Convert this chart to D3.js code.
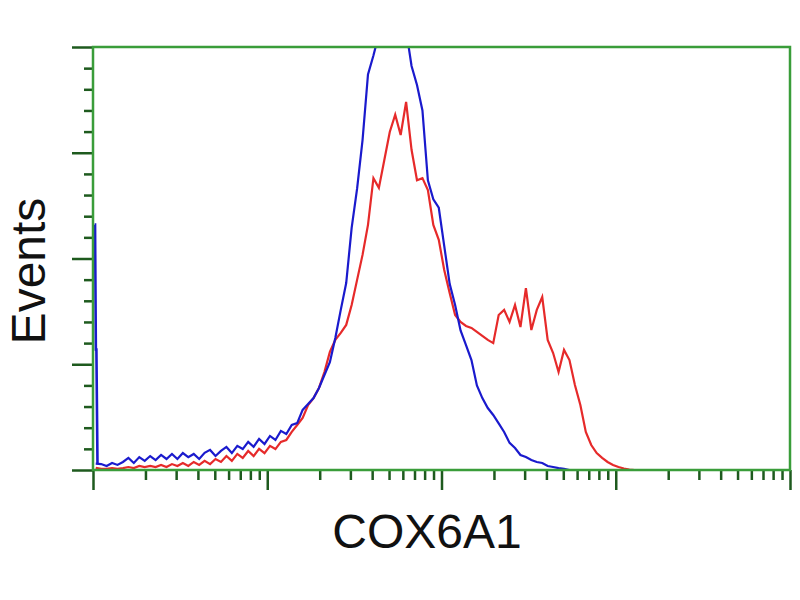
<!DOCTYPE html>
<html>
<head>
<meta charset="utf-8">
<script src="https://cdn.jsdelivr.net/npm/d3@7"></script>
<style>
    body { margin: 0; background: #fff; }
    .axisLabel { font-family: "Liberation Sans", Arial, sans-serif; font-size: 48px; fill: #111; }
</style>
</head>
<body>
<svg id="chart"></svg>
<script>
// channels per histogram bin (1024 channel, 4 decade log display)
const binWidth = 8;
const channelMax = 1024;
const decades = [0, 1, 2, 3, 4];
const yMajorTicks = [0, 50, 100, 150, 200];
const yMinorTicks = [10, 20, 30, 40, 60, 70, 80, 90, 110, 120, 130, 140, 160, 170, 180, 190];

// control (blue) piles up in the first channels (off-scale low events)
const spikeChannels = [2.4, 3.0, 4.2, 5.0, 6.6];
const spikeCounts = [116, 116, 57, 57, 3];

// control (blue) histogram, counts per bin
const controlCounts = [
    3, 2.8, 1.9, 3.3, 2.4, 3.8, 5.7, 3.3, 6.1, 4.3,
    6.6, 4.7, 7.1, 5.2, 7.6, 5.2, 8.0, 6.1, 7.6, 5.2,
    8.1, 9.5, 6.6, 9.0, 10.9, 8.0, 11.4, 9.9, 13.3, 11.0,
    14.7, 12.3, 16.1, 14.2, 18.5, 17.0, 21.3, 22.2, 28.4, 31.2,
    34, 38.8, 44.9, 51, 62.4, 75.7, 88.4, 114.5, 133, 156,
    187, 196, 206, 215, 225, 230, 222, 208, 191, 182,
    170, 137, 128, 124, 106, 88, 78, 66, 59, 52,
    40, 34, 29.3, 26, 22, 18, 12.8, 10.4, 7.1, 6.1,
    4.7, 3.8, 3.3, 1.9, 1.4, 0.9, 0.5, 0
];

// COX6A1 stained (red) histogram, counts per bin
const stainedCounts = [
    1, 0.5, 0.5, 0.9, 0.5, 0.9, 1.4, 0.9, 1.9, 1.4,
    1.9, 1.4, 2.4, 1.4, 2.8, 1.9, 3.3, 1.9, 3.8, 2.4,
    4.3, 2.8, 5.2, 3.8, 6.6, 4.3, 7.6, 5.7, 9.0, 6.6,
    10.0, 8.0, 11.4, 9.9, 13.3, 14.2, 18, 21.3, 24.6, 30.7,
    34, 38.8, 46.3, 55.8, 61.5, 64.8, 68.6, 78, 89.9, 101.7,
    115.9, 138, 133.4, 146.6, 159.8, 168, 158.4, 174, 151.4, 137,
    138, 132.4, 115.9, 108.8, 94.6, 83.7, 73.3, 70, 68.1, 67.2,
    65.3, 63.4, 61.5, 60, 73.3, 75.7, 70, 78, 67.6, 86,
    66.2, 75.7, 81.8, 61.5, 55.3, 46.3, 56.8, 52, 40.2, 30.7,
    18, 11.8, 8, 5.7, 3.8, 2.4, 1.4, 0.7, 0.2, 0
];

class FlowHistogram {
    constructor(_config) {
        this.config = {
            parentElement: _config.parentElement,
            containerWidth: _config.containerWidth || 800,
            containerHeight: _config.containerHeight || 600,
            margin: { top: 47, right: 10, bottom: 130, left: 93 }
        }
        this.initVis();
    }

    initVis() {
        let vis = this;

        vis.width = vis.config.containerWidth - vis.config.margin.left - vis.config.margin.right;
        vis.height = vis.config.containerHeight - vis.config.margin.top - vis.config.margin.bottom;

        vis.xScale = d3.scaleLinear()
            .domain([0, channelMax])
            .range([0, vis.width]);

        vis.yScale = d3.scaleLinear()
            .domain([0, 200])
            .range([vis.height, 0]);

        vis.svg = d3.select(vis.config.parentElement)
            .attr('width', vis.config.containerWidth)
            .attr('height', vis.config.containerHeight);

        vis.chart = vis.svg.append('g')
            .attr('transform', `translate(${vis.config.margin.left},${vis.config.margin.top})`);

        vis.chart.append('clipPath')
            .attr('id', 'plot-clip')
            .append('rect')
            .attr('width', vis.width)
            .attr('height', vis.height);

        // log-decade tick positions in channel units
        let xMajor = decades.map(d => d * channelMax / 4);
        let xMinor = [];
        decades.slice(0, 4).forEach(d => {
            for (let k = 2; k < 10; k++) xMinor.push((d + Math.log10(k)) * channelMax / 4);
        });

        const tickColor = '#1e5a1e';

        let addAxis = (axis, transform) => {
            let g = vis.chart.append('g')
                .attr('class', 'axis')
                .attr('transform', transform)
                .call(axis);
            g.select('.domain').remove();
            g.selectAll('line').attr('stroke', tickColor).attr('stroke-width', 2.5);
        };

        addAxis(d3.axisBottom(vis.xScale).tickValues(xMinor).tickSize(10).tickFormat(''), `translate(0,${vis.height})`);
        addAxis(d3.axisBottom(vis.xScale).tickValues(xMajor).tickSize(20).tickFormat(''), `translate(0,${vis.height})`);
        addAxis(d3.axisLeft(vis.yScale).tickValues(yMinorTicks).tickSize(9).tickFormat(''), 'translate(0,0)');
        addAxis(d3.axisLeft(vis.yScale).tickValues(yMajorTicks).tickSize(21).tickFormat(''), 'translate(0,0)');

        vis.line = d3.line()
            .x((d, i) => vis.xScale((i + 0.5) * binWidth))
            .y(d => vis.yScale(d));

        vis.plot = vis.chart.append('g').attr('clip-path', 'url(#plot-clip)');

        // frame
        vis.chart.append('rect')
            .attr('width', vis.width)
            .attr('height', vis.height)
            .attr('fill', 'none')
            .attr('stroke', '#3a9d3a')
            .attr('stroke-width', 2.5);

        vis.svg.append('text')
            .attr('class', 'axisLabel')
            .attr('text-anchor', 'middle')
            .attr('transform', `translate(45, 271) rotate(-90)`)
            .text('Events');

        vis.svg.append('text')
            .attr('class', 'axisLabel')
            .attr('text-anchor', 'middle')
            .attr('x', 427)
            .attr('y', 548)
            .text('COX6A1');

        vis.renderVis();
    }

    renderVis() {
        let vis = this;

        vis.plot.append('path')
            .datum(stainedCounts)
            .attr('fill', 'none')
            .attr('stroke', '#e62a2a')
            .attr('stroke-width', 2.2)
            .attr('d', vis.line);

        vis.plot.append('path')
            .datum(controlCounts)
            .attr('fill', 'none')
            .attr('stroke', '#1a1acd')
            .attr('stroke-width', 2.2)
            .attr('d', vis.line);

        let spikeLine = d3.line()
            .x((d, i) => vis.xScale(spikeChannels[i]))
            .y(d => vis.yScale(d));

        vis.plot.append('path')
            .datum(spikeCounts)
            .attr('fill', 'none')
            .attr('stroke', '#1a1acd')
            .attr('stroke-width', 2.6)
            .attr('d', spikeLine);
    }
}

new FlowHistogram({ parentElement: '#chart' });
</script>
</body>
</html>
